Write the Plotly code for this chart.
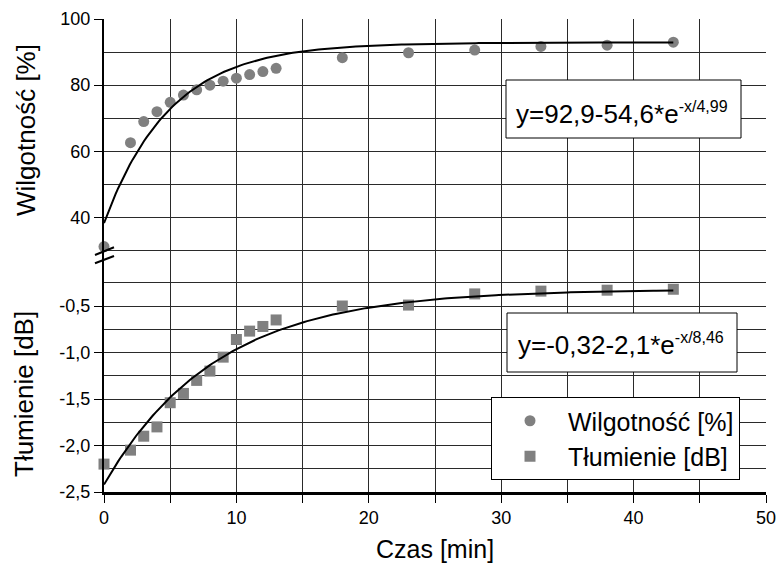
import numpy as np
import plotly.graph_objects as go

# ---- data ----
czas = [0, 2, 3, 4, 5, 6, 7, 8, 9, 10, 11, 12, 13, 18, 23, 28, 33, 38, 43]
wilgotnosc = [31.2, 62.6, 69.0, 72.0, 74.8, 77.0, 78.6, 80.0, 81.2, 82.1, 83.2, 84.1, 85.1,
              88.3, 89.8, 90.6, 91.7, 92.1, 93.0]
tlumienie = [-2.20, -2.05, -1.90, -1.80, -1.54, -1.44, -1.30, -1.20, -1.05, -0.86, -0.77,
             -0.72, -0.65, -0.50, -0.49, -0.37, -0.34, -0.33, -0.32]

# fitted model parameters (shown on the chart)
fit_w = dict(a=92.9, b=54.6, t=4.99)
fit_t = dict(a=-0.32, b=2.1, t=8.46)
fit_x = np.linspace(0, 43, 200)

x_ticks = [0, 10, 20, 30, 40, 50]
w_ticks = [40, 60, 80, 100]
t_ticks = [-2.5, -2.0, -1.5, -1.0, -0.5]
t_ticktext = ["-2,5", "-2,0", "-1,5", "-1,0", "-0,5"]

FONT = "Liberation Sans, Arial, sans-serif"
GRAY = "#808080"
GRID = "#2a2a2a"

# plot area in pixels
L, R, T, B = 104, 766, 19, 492
W, H = 776, 564


def px(x):
    return (x - L) / (R - L)


def py(y):
    return (B - y) / (B - T)


split = py(259.5)

fig = go.Figure()
fig.add_trace(go.Scatter(x=czas, y=wilgotnosc, mode="markers", name="Wilgotność [%]",
                         marker=dict(symbol="circle", size=11, color=GRAY),
                         xaxis="x", yaxis="y2", cliponaxis=False))
fig.add_trace(go.Scatter(x=czas, y=tlumienie, mode="markers", name="Tłumienie [dB]",
                         marker=dict(symbol="square", size=11, color=GRAY),
                         xaxis="x", yaxis="y", cliponaxis=False))
fig.add_trace(go.Scatter(x=fit_x, y=fit_w["a"] - fit_w["b"] * np.exp(-fit_x / fit_w["t"]),
                         mode="lines", line=dict(color="black", width=2), showlegend=False,
                         xaxis="x", yaxis="y2"))
fig.add_trace(go.Scatter(x=fit_x, y=fit_t["a"] - fit_t["b"] * np.exp(-fit_x / fit_t["t"]),
                         mode="lines", line=dict(color="black", width=2), showlegend=False,
                         xaxis="x", yaxis="y"))

fig.update_layout(
    width=W, height=H,
    margin=dict(l=L, r=W - R, t=T, b=H - B, autoexpand=False),
    paper_bgcolor="white", plot_bgcolor="white",
    font=dict(family=FONT, size=18, color="black"),
    xaxis=dict(range=[0, 50], tickvals=x_ticks, ticks="outside", ticklen=8, tickwidth=1,
               tickcolor="black", showgrid=True, gridcolor=GRID, gridwidth=1,
               minor=dict(dtick=5, ticks="outside", ticklen=8, tickcolor="black",
                          showgrid=True, gridcolor=GRID, gridwidth=1),
               showline=True, linecolor="black", linewidth=2.5, zeroline=False,
               anchor="y", tickfont=dict(size=18), ticklabeloverflow="allow",
               automargin=False),
    yaxis=dict(domain=[0, split], range=[-2.5, 0.0], tickvals=t_ticks, ticktext=t_ticktext,
               ticks="outside", ticklen=8, tickcolor="black", showgrid=True, gridcolor=GRID,
               minor=dict(dtick=0.25, tick0=0, ticks="", showgrid=True, gridcolor=GRID),
               showline=True, linecolor="black", linewidth=2, zeroline=False, anchor="x",
               tickfont=dict(size=18), automargin=False),
    yaxis2=dict(domain=[split, 1], range=[27.3, 100], tickvals=w_ticks,
                ticks="outside", ticklen=8, tickcolor="black", showgrid=True, gridcolor=GRID,
                minor=dict(dtick=10, tick0=0, ticks="", showgrid=True, gridcolor=GRID),
                showline=True, linecolor="black", linewidth=2, zeroline=False, anchor="x",
                tickfont=dict(size=18), automargin=False),
    legend=dict(x=px(491), y=py(397), xanchor="left", yanchor="top",
                bgcolor="white", bordercolor="black", borderwidth=1,
                font=dict(size=25), itemwidth=66),
    showlegend=True,
)

shapes = []
# axis break marks
for y0, y1 in [(255, 247.3), (263.3, 256)]:
    shapes.append(dict(type="line", xref="paper", yref="paper", x0=px(95), y0=py(y0),
                       x1=px(114), y1=py(y1), line=dict(color="black", width=2)))
# equation boxes
shapes.append(dict(type="rect", xref="paper", yref="paper", x0=px(506), x1=px(741),
                   y0=py(138), y1=py(80), fillcolor="white", line=dict(color="black", width=1),
                   layer="above"))
shapes.append(dict(type="rect", xref="paper", yref="paper", x0=px(507), x1=px(737),
                   y0=py(372), y1=py(313), fillcolor="white", line=dict(color="black", width=1),
                   layer="above"))
fig.update_layout(shapes=shapes)

SUP = "<sup><span style='font-size:16px'>{}</span></sup>"
ann = [
    dict(text="y=92,9-54,6*e" + SUP.format("-x/4,99"), x=px(622), y=py(113), xref="paper",
         yref="paper", showarrow=False, font=dict(size=26), xanchor="center", yanchor="middle"),
    dict(text="y=-0,32-2,1*e" + SUP.format("-x/8,46"), x=px(621), y=py(344), xref="paper",
         yref="paper", showarrow=False, font=dict(size=26), xanchor="center", yanchor="middle"),
    dict(text="Wilgotność [%]", x=px(26), y=py(130), xref="paper", yref="paper",
         showarrow=False, textangle=-90, font=dict(size=26), xanchor="center", yanchor="middle"),
    dict(text="Tłumienie [dB]", x=px(24), y=py(394), xref="paper", yref="paper",
         showarrow=False, textangle=-90, font=dict(size=26), xanchor="center", yanchor="middle"),
    dict(text="Czas [min]", x=0.5, y=py(549), xref="paper", yref="paper",
         showarrow=False, font=dict(size=25), xanchor="center", yanchor="middle"),
]
fig.update_layout(annotations=ann)

fig.write_html("out.html")
